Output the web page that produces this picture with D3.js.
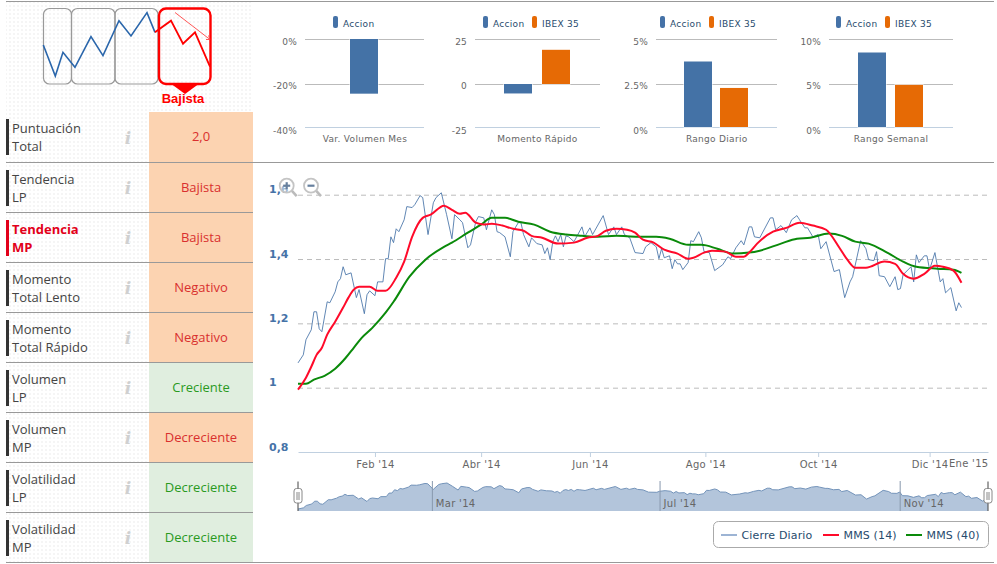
<!DOCTYPE html>
<html><head><meta charset="utf-8">
<script src="https://cdnjs.cloudflare.com/ajax/libs/d3/7.8.5/d3.min.js"></script>
<style>html,body{margin:0;padding:0;background:#fff}svg{display:block}</style></head>
<body><svg id="c" width="997" height="564"></svg>
<script>
// ---------- data ----------
const closeSession=[0,2,3,5,6,7,8,9,11,12,14,15,16,17,18,20,22,23,25,26,27,29,30,32,33,34,35,36,37,38,40,41,43,44,46,47,49,51,52,54,56,58,59,61,62,64,65,67,68,70,71,73,74,75,76,78,80,81,83,84,85,87,88,90,92,93,94,95,96,97,98,99,100,101,102,104,105,107,108,110,111,115,117,119,120,122,123,125,127,130,131,133,135,136,137,138,140,141,142,143,144,145,147,148,149,151,152,153,155,157,160,162,163,165,167,168,170,171,172,174,178,179,180,182,184,186,188,189,191,192,194,196,197,199,202,204,206,208,209,212,214,215,217,218,219,221,223,225,226,227,228,231,232,233,234,236,237,238,240,242,243,244,246,248,249,250];
const closeValue=[1.077,1.102,1.149,1.18,1.236,1.236,1.183,1.174,1.267,1.264,1.298,1.329,1.339,1.376,1.351,1.357,1.28,1.305,1.23,1.289,1.301,1.286,1.329,1.329,1.401,1.401,1.469,1.451,1.494,1.485,1.522,1.563,1.56,1.569,1.597,1.591,1.476,1.575,1.591,1.606,1.538,1.463,1.538,1.522,1.513,1.435,1.444,1.516,1.532,1.528,1.491,1.553,1.538,1.485,1.482,1.469,1.407,1.485,1.513,1.513,1.476,1.438,1.466,1.448,1.444,1.417,1.435,1.398,1.454,1.472,1.454,1.476,1.438,1.472,1.469,1.454,1.469,1.5,1.469,1.497,1.476,1.535,1.476,1.5,1.476,1.5,1.476,1.466,1.42,1.417,1.438,1.451,1.438,1.401,1.432,1.404,1.41,1.37,1.398,1.385,1.385,1.367,1.389,1.457,1.454,1.485,1.466,1.423,1.42,1.364,1.382,1.407,1.401,1.435,1.457,1.444,1.5,1.5,1.469,1.466,1.528,1.528,1.491,1.504,1.482,1.522,1.535,1.522,1.497,1.497,1.469,1.476,1.432,1.454,1.361,1.367,1.28,1.329,1.345,1.457,1.432,1.398,1.395,1.423,1.348,1.345,1.314,1.345,1.305,1.308,1.351,1.376,1.329,1.413,1.389,1.41,1.41,1.367,1.42,1.329,1.339,1.295,1.311,1.239,1.264,1.249];
const ma14Session=[0,3,5,7,9,11,14,17,19,21,23,27,30,33,37,40,43,47,50,55,58,61,63,67,70,73,77,81,85,88,92,98,104,109,113,116,120,124,127,130,134,138,143,147,149,153,156,161,165,168,170,173,179,184,189,194,199,204,207,210,214,221,225,228,232,236,240,243,247,250];
const ma14Value=[0.994,1.031,1.065,1.102,1.124,1.165,1.205,1.249,1.28,1.305,1.314,1.314,1.301,1.301,1.342,1.392,1.469,1.528,1.538,1.566,1.553,1.541,1.544,1.513,1.507,1.51,1.504,1.494,1.488,1.472,1.466,1.448,1.451,1.466,1.472,1.488,1.494,1.491,1.482,1.46,1.451,1.429,1.417,1.401,1.404,1.42,1.426,1.423,1.407,1.407,1.42,1.448,1.485,1.497,1.513,1.504,1.491,1.435,1.398,1.373,1.373,1.392,1.385,1.354,1.339,1.354,1.379,1.376,1.364,1.326];
const ma40Session=[0,3,6,10,14,18,21,24,28,33,36,42,48,55,58,64,69,73,78,83,89,95,101,107,113,120,128,135,140,147,152,158,164,170,174,182,188,193,200,205,210,215,222,228,233,241,247,250];
const ma40Value=[1.012,1.012,1.025,1.037,1.059,1.093,1.124,1.155,1.186,1.233,1.267,1.345,1.398,1.438,1.451,1.482,1.507,1.528,1.528,1.516,1.507,1.485,1.476,1.472,1.469,1.472,1.469,1.469,1.463,1.444,1.444,1.432,1.417,1.42,1.426,1.448,1.463,1.466,1.479,1.472,1.454,1.448,1.42,1.392,1.376,1.37,1.367,1.357];
const mainTickSessions=[29,69,110,153.5,196,238];
const mainTickLabels=["Feb '14","Abr '14","Jun '14","Ago '14","Oct '14","Dic '14"];
const lastTickLabel="Ene '15";
const yTicks=[0.8,1,1.2,1.4,1.6];
const navTickSessions=[48.5,131,218];
const navTickLabels=["Mar '14","Jul '14","Nov '14"];
const sparkX=[0,36,59,95,143,179,227,263,311,335,383,419,455,500];
const sparkY=[117,24,95,50,142,85,190,144,214,155,190,121,155,52];
const rowLabels=[["Puntuación","Total"],["Tendencia","LP"],["Tendencia","MP"],["Momento","Total Lento"],["Momento","Total Rápido"],["Volumen","LP"],["Volumen","MP"],["Volatilidad","LP"],["Volatilidad","MP"]];
const rowValues=["2,0","Bajista","Bajista","Negativo","Negativo","Creciente","Decreciente","Decreciente","Decreciente"];
const rowGood=[0,0,0,0,0,1,0,1,1];
const miniNames=["Var. Volumen Mes","Momento Rápido","Rango Diario","Rango Semanal"];
const miniAccion=[-24.5,-5.5,3.75,8.5];
const miniIbex=[null,19,2.27,4.9];
const miniTicks=[[0,-20,-40],[25,0,-25],[5,2.5,0],[10,5,0]];
const miniTickLabels=[["0%","-20%","-40%"],["25","0","-25"],["5%","2.5%","0%"],["10%","5%","0%"]];
const legendNames=["Cierre Diario","MMS (14)","MMS (40)"];
// ---------- layout / style ----------
const svg=d3.select("#c");
const blue="#4572a7",orange="#e66a05",red="#ff0a2a",green="#0a8a0a",ink="#274b6d",grey="#666";
const LF="'DejaVu Sans',sans-serif",OS="'Open Sans',sans-serif";
const defs=svg.append("defs");
defs.append("pattern").attr("id","dots").attr("width",4).attr("height",4).attr("patternUnits","userSpaceOnUse")
 .append("rect").attr("x",1).attr("y",1).attr("width",2).attr("height",2).attr("fill","#f5f5f5");
svg.append("rect").attr("x",6).attr("y",2).attr("width",247).attr("height",560).attr("fill","url(#dots)");

// spark
const sx=d3.scaleLinear().domain([0,500]).range([43.3,210]);
const sy=d3.scaleLinear().domain([0,228]).range([84,8]);
[[43.5,71.5],[71.5,115],[115,158]].forEach(b=>svg.append("rect").attr("x",b[0]).attr("y",8.5).attr("width",b[1]-b[0]).attr("height",75.5).attr("rx",6).attr("fill","none").attr("stroke","#999").attr("stroke-width",1.2));
svg.append("rect").attr("x",159).attr("y",8.5).attr("width",51.5).attr("height",75.5).attr("rx",7).attr("fill","none").attr("stroke","#f00").attr("stroke-width",2.4);
svg.append("path").attr("d","M172 84.5L198 84.5L185 94Z").attr("fill","#f00");
const spts=sparkX.map((d,i)=>[sx(d),sy(sparkY[i])]);
const sl=d3.line();
svg.append("path").attr("d",sl(spts.slice(0,10))).attr("fill","none").attr("stroke","#2a66ab").attr("stroke-width",1.6);
svg.append("path").attr("d",sl(spts.slice(9))).attr("fill","none").attr("stroke","#f00").attr("stroke-width",1.8);
svg.append("path").attr("d","M175 12.5L210 39.5M206 39.5L210 39.5L208.5 35.5").attr("fill","none").attr("stroke","#f44").attr("stroke-width",.9);
svg.append("text").attr("x",183).attr("y",103).attr("text-anchor","middle").attr("font-family","'Liberation Sans',Arial,sans-serif").attr("font-weight","bold").attr("font-size",13).attr("fill","#f00").text("Bajista");

// rows
rowLabels.forEach((r,i)=>{
 const top=112+i*50, hi=i===2, nudge=i===0?-1:0;
 svg.append("rect").attr("x",149).attr("y",top).attr("width",104).attr("height",50).attr("fill",rowGood[i]?"#e0eedf":"#fcd3b1");
 svg.append("rect").attr("x",6).attr("y",top+8+nudge).attr("width",3).attr("height",36).attr("fill",hi?"#e2001a":"#333");
 r.forEach((t,j)=>svg.append("text").attr("x",12).attr("y",top+22+nudge+j*18).attr("font-family",OS).attr("font-size",13).attr("font-weight",hi?"bold":"normal").attr("fill",hi?"#e2001a":"#444").text(t));
 svg.append("text").attr("x",128).attr("y",top+32).attr("text-anchor","middle").attr("font-family","'DejaVu Serif',serif").attr("font-style","italic").attr("font-weight","bold").attr("font-size",17).attr("fill","#d0d0d0").text("i");
 svg.append("text").attr("x",201).attr("y",top+30+nudge).attr("text-anchor","middle").attr("font-family",OS).attr("font-size",13).attr("fill",rowGood[i]?"#2a9a1e":"#d9302e").text(rowValues[i]);
});
// separators
[1,162,212,262,312,362,412,462,512,562].forEach(y=>{
 const full=y===1||y===162||y===562;
 svg.append("line").attr("x1",6).attr("x2",full?994:253).attr("y1",y+.5).attr("y2",y+.5).attr("stroke","#999").attr("stroke-width",1);
});

// mini charts
const miniLeft=[305,475,656,829],miniRight=[424,600,777,953];
const miniCenter=[365,537.5,716.7,891];
const barA=[350,504,684,858],barB=[null,542,720,895];
const legA=[333,483,660,836],legB=[null,532,709,885];
const miniLabelShift=[2.5,1.5,3.5];
miniNames.forEach((n,i)=>{
 const ys=d3.scaleLinear().domain(miniTicks[i]).range([39,84,127]);
 const g=svg.append("g").attr("transform",`translate(${miniLeft[i]},0)`);
 const ax=d3.axisLeft(ys).tickValues(miniTicks[i]).tickFormat((d,k)=>miniTickLabels[i][k]).tickSize(-(miniRight[i]-miniLeft[i])).tickPadding(8);
 g.call(ax);
 g.select(".domain").remove();
 g.selectAll(".tick line").attr("stroke",(d,k)=>k===2?"#c0d0e0":"#bbb");
 g.selectAll(".tick text").attr("y",(d,k)=>miniLabelShift[k]).attr("font-family",LF).attr("font-size",9).attr("letter-spacing",.2).attr("fill",grey);
 const base=ys(0);
 const drawBar=(x,v,c)=>{const a=ys(v),t=Math.min(a,base),h=Math.abs(a-base);
   svg.append("rect").attr("x",x).attr("y",t).attr("width",28).attr("height",h).attr("fill",c).attr("stroke","#fff").attr("stroke-width",1).attr("paint-order","stroke");};
 drawBar(barA[i],miniAccion[i],"#4472a6");
 if(miniIbex[i]!==null)drawBar(barB[i],miniIbex[i],orange);
 svg.append("text").attr("x",miniCenter[i]).attr("y",142).attr("text-anchor","middle").attr("font-family",LF).attr("font-size",9).attr("letter-spacing",.3).attr("fill",grey).text(n);
 const leg=(x,c,t)=>{svg.append("rect").attr("x",x).attr("y",16).attr("width",5).attr("height",12).attr("rx",2).attr("fill",c);
   svg.append("text").attr("x",x+10).attr("y",27).attr("font-family",LF).attr("font-size",9).attr("letter-spacing",.3).attr("fill",ink).text(t);};
 leg(legA[i],blue,"Accion");
 if(legB[i]!==null)leg(legB[i],orange,"IBEX 35");
});

// main chart
const X0=298,X1=988;
const x=d3.scaleLinear().domain([0,260]).range([X0,X1]);
const y=d3.scaleLinear().domain([0.8,1.6]).range([452,194.7]);
const comma=d=>d3.format(".1f")(d).replace(".",",").replace(",0","");
const yFmt=d=>d===0.8?"0,8":d===1?"1":comma(d);
const gy=svg.append("g").attr("transform",`translate(${X0},0)`);
gy.call(d3.axisLeft(y).tickValues(yTicks).tickFormat(yFmt).tickSize(-(X1-X0)));
gy.select(".domain").remove();
gy.selectAll(".tick line").attr("stroke",d=>d===0.8?"none":"#bbb").attr("stroke-dasharray","5,4");
gy.selectAll(".tick text").attr("x",-29).attr("text-anchor","start").attr("dy",0).attr("y",-2).attr("font-family",LF).attr("font-weight","bold").attr("font-size",11).attr("fill",blue);
const gx=svg.append("g").attr("transform","translate(0,452)");
gx.call(d3.axisBottom(x).tickValues(mainTickSessions).tickFormat((d,i)=>mainTickLabels[i]).tickSize(5).tickPadding(4).tickSizeOuter(0));
gx.select(".domain").attr("stroke","#c0d0e0");
gx.selectAll(".tick line").attr("stroke","#c0d0e0");
gx.selectAll(".tick text").attr("font-family",LF).attr("font-size",10).attr("letter-spacing",.3).attr("fill",grey);
svg.append("text").attr("x",988.5).attr("y",467).attr("text-anchor","end").attr("font-family",LF).attr("font-size",10).attr("letter-spacing",.3).attr("fill",grey).text(lastTickLabel);
const mkLine=(S,V,curve)=>d3.line().x((d,i)=>x(S[i])).y(d=>y(d)).curve(curve)(V);
svg.append("path").attr("d",mkLine(closeSession,closeValue,d3.curveLinear)).attr("fill","none").attr("stroke",blue).attr("stroke-opacity",.85).attr("stroke-width",1);
svg.append("path").attr("d",mkLine(ma40Session,ma40Value,d3.curveMonotoneX)).attr("fill","none").attr("stroke",green).attr("stroke-width",2);
svg.append("path").attr("d",mkLine(ma14Session,ma14Value,d3.curveMonotoneX)).attr("fill","none").attr("stroke",red).attr("stroke-width",2);

// zoom icons
[[286.7,"+"],[311,"-"]].forEach(z=>{
 const g=svg.append("g").attr("transform",`translate(${z[0]},185.7)`);
 g.append("line").attr("x1",5).attr("y1",5).attr("x2",10).attr("y2",10.5).attr("stroke","#bbb").attr("stroke-width",2.6);
 g.append("circle").attr("r",7).attr("fill","#fff").attr("fill-opacity",.5).attr("stroke","#c4c4c4").attr("stroke-width",1.8);
 g.append("line").attr("x1",-3.5).attr("x2",3.5).attr("stroke","#67809e").attr("stroke-width",2.2);
 if(z[1]==="+")g.append("line").attr("y1",-3.5).attr("y2",3.5).attr("stroke","#67809e").attr("stroke-width",2.2);
});

// navigator
const nx=d3.scaleLinear().domain([0,250]).range([X0,X1]);
const ny=d3.scaleLinear().domain([1.037,1.606]).range([511,483]);
svg.append("path").attr("d",d3.area().x((d,i)=>nx(closeSession[i])).y0(511).y1(d=>ny(d))(closeValue)).attr("fill","#b3c5db");
svg.append("path").attr("d",d3.line().x((d,i)=>nx(closeSession[i])).y(d=>ny(d))(closeValue)).attr("fill","none").attr("stroke","#7494ba").attr("stroke-width",1);
const gn=svg.append("g").attr("transform","translate(0,481)");
gn.call(d3.axisBottom(nx).tickValues(navTickSessions).tickFormat((d,i)=>navTickLabels[i]).tickSize(30).tickSizeOuter(0));
gn.select(".domain").remove();
gn.selectAll(".tick line").attr("stroke","#8798ad");
gn.selectAll(".tick text").attr("text-anchor","start").attr("x",3.5).attr("y",26).attr("dy",0).attr("font-family",LF).attr("font-size",10).attr("letter-spacing",.3).attr("fill",grey);
[X0,X1].forEach(hx=>{
 const g=svg.append("g").attr("transform",`translate(${hx},0)`);
 g.append("line").attr("y1",481.5).attr("y2",511).attr("stroke","#444");
 g.append("rect").attr("x",-4).attr("y",488.5).attr("width",8).attr("height",14.5).attr("rx",2.5).attr("fill","#fff").attr("stroke","#888");
 [-1,1].forEach(o=>g.append("line").attr("x1",o).attr("x2",o).attr("y1",492).attr("y2",500).attr("stroke","#888"));
});

// legend
svg.append("rect").attr("x",713.5).attr("y",521.5).attr("width",275).attr("height",26).attr("rx",5).attr("fill","#fff").attr("stroke","#aaa");
[[721,"#9db4d4"],[823,red],[906,green]].forEach((l,i)=>{
 svg.append("line").attr("x1",l[0]).attr("x2",l[0]+16).attr("y1",535).attr("y2",535).attr("stroke",l[1]).attr("stroke-width",2);
 svg.append("text").attr("x",l[0]+20.5).attr("y",539).attr("font-family",LF).attr("font-size",11).attr("letter-spacing",.15).attr("fill",ink).text(legendNames[i]);
});
</script></body></html>
